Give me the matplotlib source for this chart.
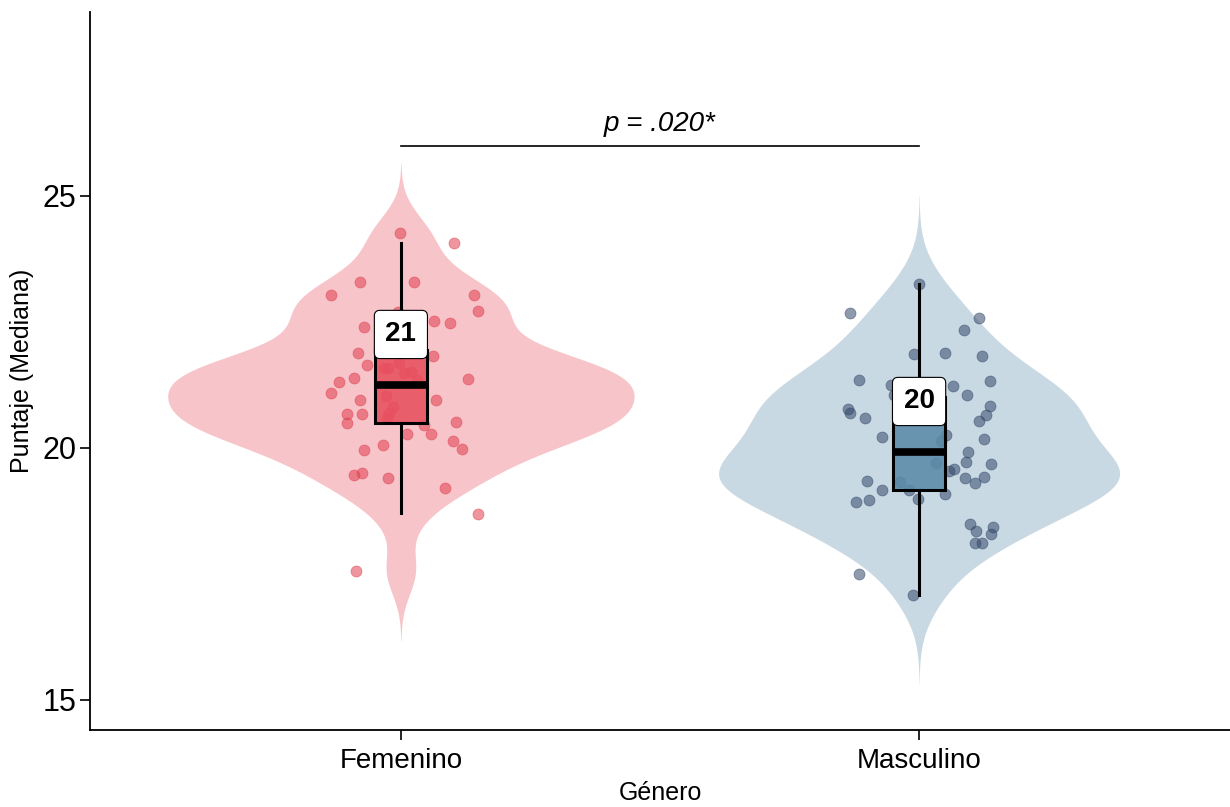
import numpy as np
import matplotlib
matplotlib.use("Agg")
import matplotlib.pyplot as plt

plt.rcParams["font.family"] = ["Liberation Sans", "DejaVu Sans"]

# ---- data ----
groups = ["Femenino", "Masculino"]
violin_colors = ["#F7C4C9", "#C9D9E3"]
box_colors = ["#E8505E", "#5B8BA9"]
point_colors = ["#E0404F", "#344A6B"]

fem_scores = [24.27, 24.06, 23.29, 23.29, 23.04, 23.04, 22.72, 22.70, 22.51, 22.47,
              22.39, 21.88, 21.83, 21.65, 21.68, 21.58, 21.58, 21.48, 21.51, 21.35,
              21.38, 21.30, 21.37, 21.08, 20.95, 20.95, 21.02, 20.82, 20.69, 20.59,
              20.67, 20.67, 20.50, 20.51, 20.46, 20.27, 20.27, 20.13, 19.97, 20.06,
              19.95, 19.46, 19.50, 19.40, 19.20, 18.68, 17.55]
fem_jitter = [-0.001, 0.103, -0.078, 0.026, -0.135, 0.142, 0.148, -0.006, 0.064, 0.095,
              -0.072, -0.083, 0.061, -0.066, -0.003, -0.032, -0.025, 0.006, 0.019, 0.032,
              -0.090, -0.119, 0.130, -0.135, -0.078, 0.068, -0.029, -0.016, -0.023, -0.026,
              -0.105, -0.075, -0.105, 0.106, 0.045, 0.011, 0.059, 0.100, 0.118, -0.034,
              -0.072, -0.090, -0.075, -0.025, 0.085, 0.148, -0.087]

masc_scores = [23.25, 22.68, 22.57, 22.33, 21.86, 21.88, 21.83, 21.35, 21.32, 21.25,
               21.23, 21.05, 21.04, 20.77, 20.69, 20.84, 20.65, 20.60, 20.54, 20.21,
               20.18, 20.25, 20.13, 19.91, 19.71, 19.68, 19.70, 19.55, 19.58, 19.41,
               19.31, 19.43, 19.35, 19.17, 19.32, 19.17, 19.08, 18.98, 18.92, 18.96,
               18.49, 18.34, 18.42, 18.29, 18.12, 18.12, 17.49, 17.08]
masc_jitter = [-0.001, -0.133, 0.115, 0.086, -0.009, 0.050, 0.122, -0.116, 0.137, -0.054,
               0.065, -0.048, 0.092, -0.138, -0.133, 0.137, 0.130, -0.104, 0.116, -0.072,
               0.125, 0.052, 0.042, 0.095, 0.091, 0.139, 0.033, 0.057, 0.068, 0.089,
               0.107, 0.125, -0.100, -0.071, -0.036, -0.019, 0.050, -0.002, -0.121, -0.097,
               0.098, 0.110, 0.142, 0.139, 0.108, 0.122, -0.116, -0.012]

# box stats (whisker low, Q1, median, Q3, whisker high)
box_whislo = [18.70, 17.08]
box_q1 = [20.49, 19.17]
box_med = [21.25, 19.92]
box_q3 = [21.95, 21.00]
box_whishi = [24.06, 23.25]
median_labels = ["21", "20"]

p_text = "p = .020*"
p_line_y = 26.0

scores = [fem_scores, masc_scores]
jitters = [fem_jitter, masc_jitter]


def nrd0(x):
    x = np.asarray(x)
    iqr = np.subtract(*np.percentile(x, [75, 25]))
    return 0.9 * min(x.std(ddof=1), iqr / 1.34) * len(x) ** -0.2


def kde(x, bw):
    x = np.asarray(x)
    grid = np.linspace(x.min() - 3 * bw, x.max() + 3 * bw, 512)
    d = np.exp(-0.5 * ((grid[:, None] - x[None, :]) / bw) ** 2).sum(1)
    d /= len(x) * bw * np.sqrt(2 * np.pi)
    return grid, d


fig = plt.figure(figsize=(12.3, 8.07), dpi=100)
ax = fig.add_axes([90 / 1230, 77 / 807, 1140 / 1230, 718 / 807])

dens = [kde(s, nrd0(s)) for s in scores]
dmax = max(d.max() for _, d in dens)

for i, (grid, d) in enumerate(dens):
    pos = i + 1
    w = d / dmax * 0.45
    ax.fill_betweenx(grid, pos - w, pos + w, color=violin_colors[i], lw=0, zorder=1)
    ax.scatter(pos + np.array(jitters[i]), scores[i], s=62, color=point_colors[i],
               alpha=0.55, edgecolors=point_colors[i], linewidths=0.6, zorder=2)

stats = [dict(whislo=box_whislo[i], q1=box_q1[i], med=box_med[i], q3=box_q3[i],
              whishi=box_whishi[i], fliers=[]) for i in range(2)]
bp = ax.bxp(stats, positions=[1, 2], widths=0.1, patch_artist=True, showcaps=False,
            showfliers=False, zorder=3,
            boxprops=dict(lw=2.2, edgecolor="black"),
            whiskerprops=dict(lw=2.2, color="black"),
            medianprops=dict(lw=5.5, color="black", solid_capstyle="butt"))
for patch, c in zip(bp["boxes"], box_colors):
    patch.set_facecolor(matplotlib.colors.to_rgba(c, 0.88))

for i, lab in enumerate(median_labels):
    ax.text(i + 1, box_med[i] + 1.0, lab, ha="center", va="center", fontsize=20,
            fontweight="bold", zorder=5,
            bbox=dict(boxstyle="round,pad=0.4,rounding_size=0.2", fc="white",
                      ec="black", lw=0.8))

# significance bracket
ax.plot([1, 2], [p_line_y, p_line_y], color="black", lw=1.2, zorder=4)
ax.text(1.5, p_line_y + 0.42, p_text, ha="center", va="center", fontsize=20,
        style="italic")

ax.set_xlim(0.4, 2.6)
ax.set_ylim(14.4, 28.65)
ax.set_xticks([1, 2])
ax.set_xticklabels(groups, fontsize=20)
ax.set_yticks([15, 20, 25])
ax.tick_params(axis="y", labelsize=22, length=7, width=1.2, pad=3)
ax.tick_params(axis="x", length=7, width=1.2, pad=6)
ax.set_xlabel("Género", fontsize=18, labelpad=5)
ax.set_ylabel("Puntaje (Mediana)", fontsize=18, labelpad=6)
for side in ["top", "right"]:
    ax.spines[side].set_visible(False)
for side in ["left", "bottom"]:
    ax.spines[side].set_linewidth(1.3)

fig.savefig("out.png", dpi=100)
